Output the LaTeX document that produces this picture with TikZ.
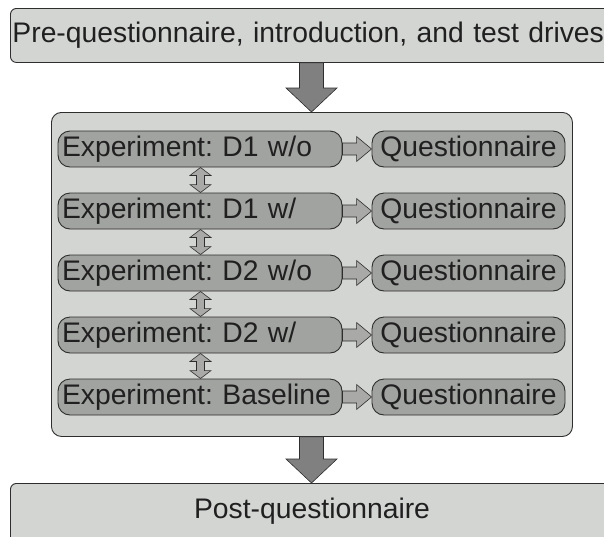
\documentclass[tikz,border=0pt]{standalone}
\usepackage{fontspec}
\setmainfont{Liberation Sans}
\frenchspacing
\usetikzlibrary{calc}
\definecolor{lightbg}{HTML}{D3D5D2}
\definecolor{darkbox}{HTML}{A1A3A0}
\definecolor{bigarrfill}{HTML}{808080}
\definecolor{smallarrfill}{HTML}{A9A9A7}
\definecolor{edgecol}{HTML}{2E2E2E}
\definecolor{txtcol}{HTML}{202020}
\tikzset{
  outerbox/.style={draw=edgecol, line width=0.9pt, fill=lightbg, rounded corners=6pt},
  expbox/.style={draw=edgecol, line width=0.9pt, fill=darkbox, rounded corners=12pt,
    minimum height=36pt, inner sep=0pt, text=txtcol, font=\fontsize{28.3}{32}\selectfont},
  bigarr/.style={draw=edgecol, line width=0.6pt, fill=bigarrfill},
  smallarr/.style={draw=edgecol, line width=0.6pt, fill=smallarrfill},
  bigtext/.style={text=txtcol, font=\fontsize{28.3}{32}\selectfont}
}
\newcommand{\rightarr}[2]{%
  \draw[smallarr] let \p1=(#1.east), \p2=(#2.west) in
    (\x1,\y1+6pt) -- (\x2-15pt,\y1+6pt) -- (\x2-15pt,\y1+12.5pt) -- (\x2,\y1)
    -- (\x2-15pt,\y1-12.5pt) -- (\x2-15pt,\y1-6pt) -- (\x1,\y1-6pt) -- cycle;}
\newcommand{\updownarr}[2]{%
  \draw[smallarr] let \p1=(#1.south), \p2=(#2.north) in
    (200.5pt,\y1) -- (190pt,\y1-8pt) -- (196.5pt,\y1-8pt) -- (196.5pt,\y2+8pt) -- (190pt,\y2+8pt)
    -- (200.5pt,\y2) -- (211pt,\y2+8pt) -- (204.5pt,\y2+8pt) -- (204.5pt,\y1-8pt) -- (211pt,\y1-8pt) -- cycle;}
\newcommand{\downbig}[2]{%
  \draw[bigarr] let \p1=(#1.south), \p2=(#2.north) in
    (299.5pt,\y1) -- (323.5pt,\y1) -- (323.5pt,\y2+24pt) -- (337pt,\y2+24pt) -- (311.5pt,\y2)
    -- (286pt,\y2+24pt) -- (299.5pt,\y2+24pt) -- cycle;}
\begin{document}
\begin{tikzpicture}[x=1pt,y=-1pt]
\useasboundingbox (0,0) rectangle (604,536);
\clip (0,0) rectangle (604,536);
% top box
\node[outerbox, anchor=north west, minimum height=54pt, text width=604pt, inner xsep=2pt, inner ysep=0pt, align=left, bigtext] (pre) at (10,8) {Pre-questionnaire, introduction, and test drives};
% inner frame
\node[outerbox, rounded corners=10pt, anchor=north west, minimum width=521pt, minimum height=324pt, inner sep=0pt] (frame) at (51,112) {};
% rows
\foreach \i/\lab/\yy in {1/Experiment: D1 w\slash o/149, 2/Experiment: D1 w\slash/211, 3/Experiment: D2 w\slash o/273, 4/Experiment: D2 w\slash/335, 5/Experiment: Baseline/397}{
  \node[expbox, minimum width=284pt, text width=276pt, align=left] (e\i) at (200,\yy) {\lab};
  \node[expbox, minimum width=193pt, align=center] (q\i) at (468.5,\yy) {Questionnaire};
}
\foreach \i in {1,...,5}{\rightarr{e\i}{q\i}}
\updownarr{e1}{e2}
\updownarr{e2}{e3}
\updownarr{e3}{e4}
\updownarr{e4}{e5}
% bottom box
\node[outerbox, anchor=north west, minimum width=604pt, minimum height=70pt, inner sep=0pt] (post) at (10,483) {};
\node[bigtext] (posttext) at (312,511) {Post-questionnaire};
\downbig{pre}{frame}
\downbig{frame}{post}
\end{tikzpicture}
\end{document}
